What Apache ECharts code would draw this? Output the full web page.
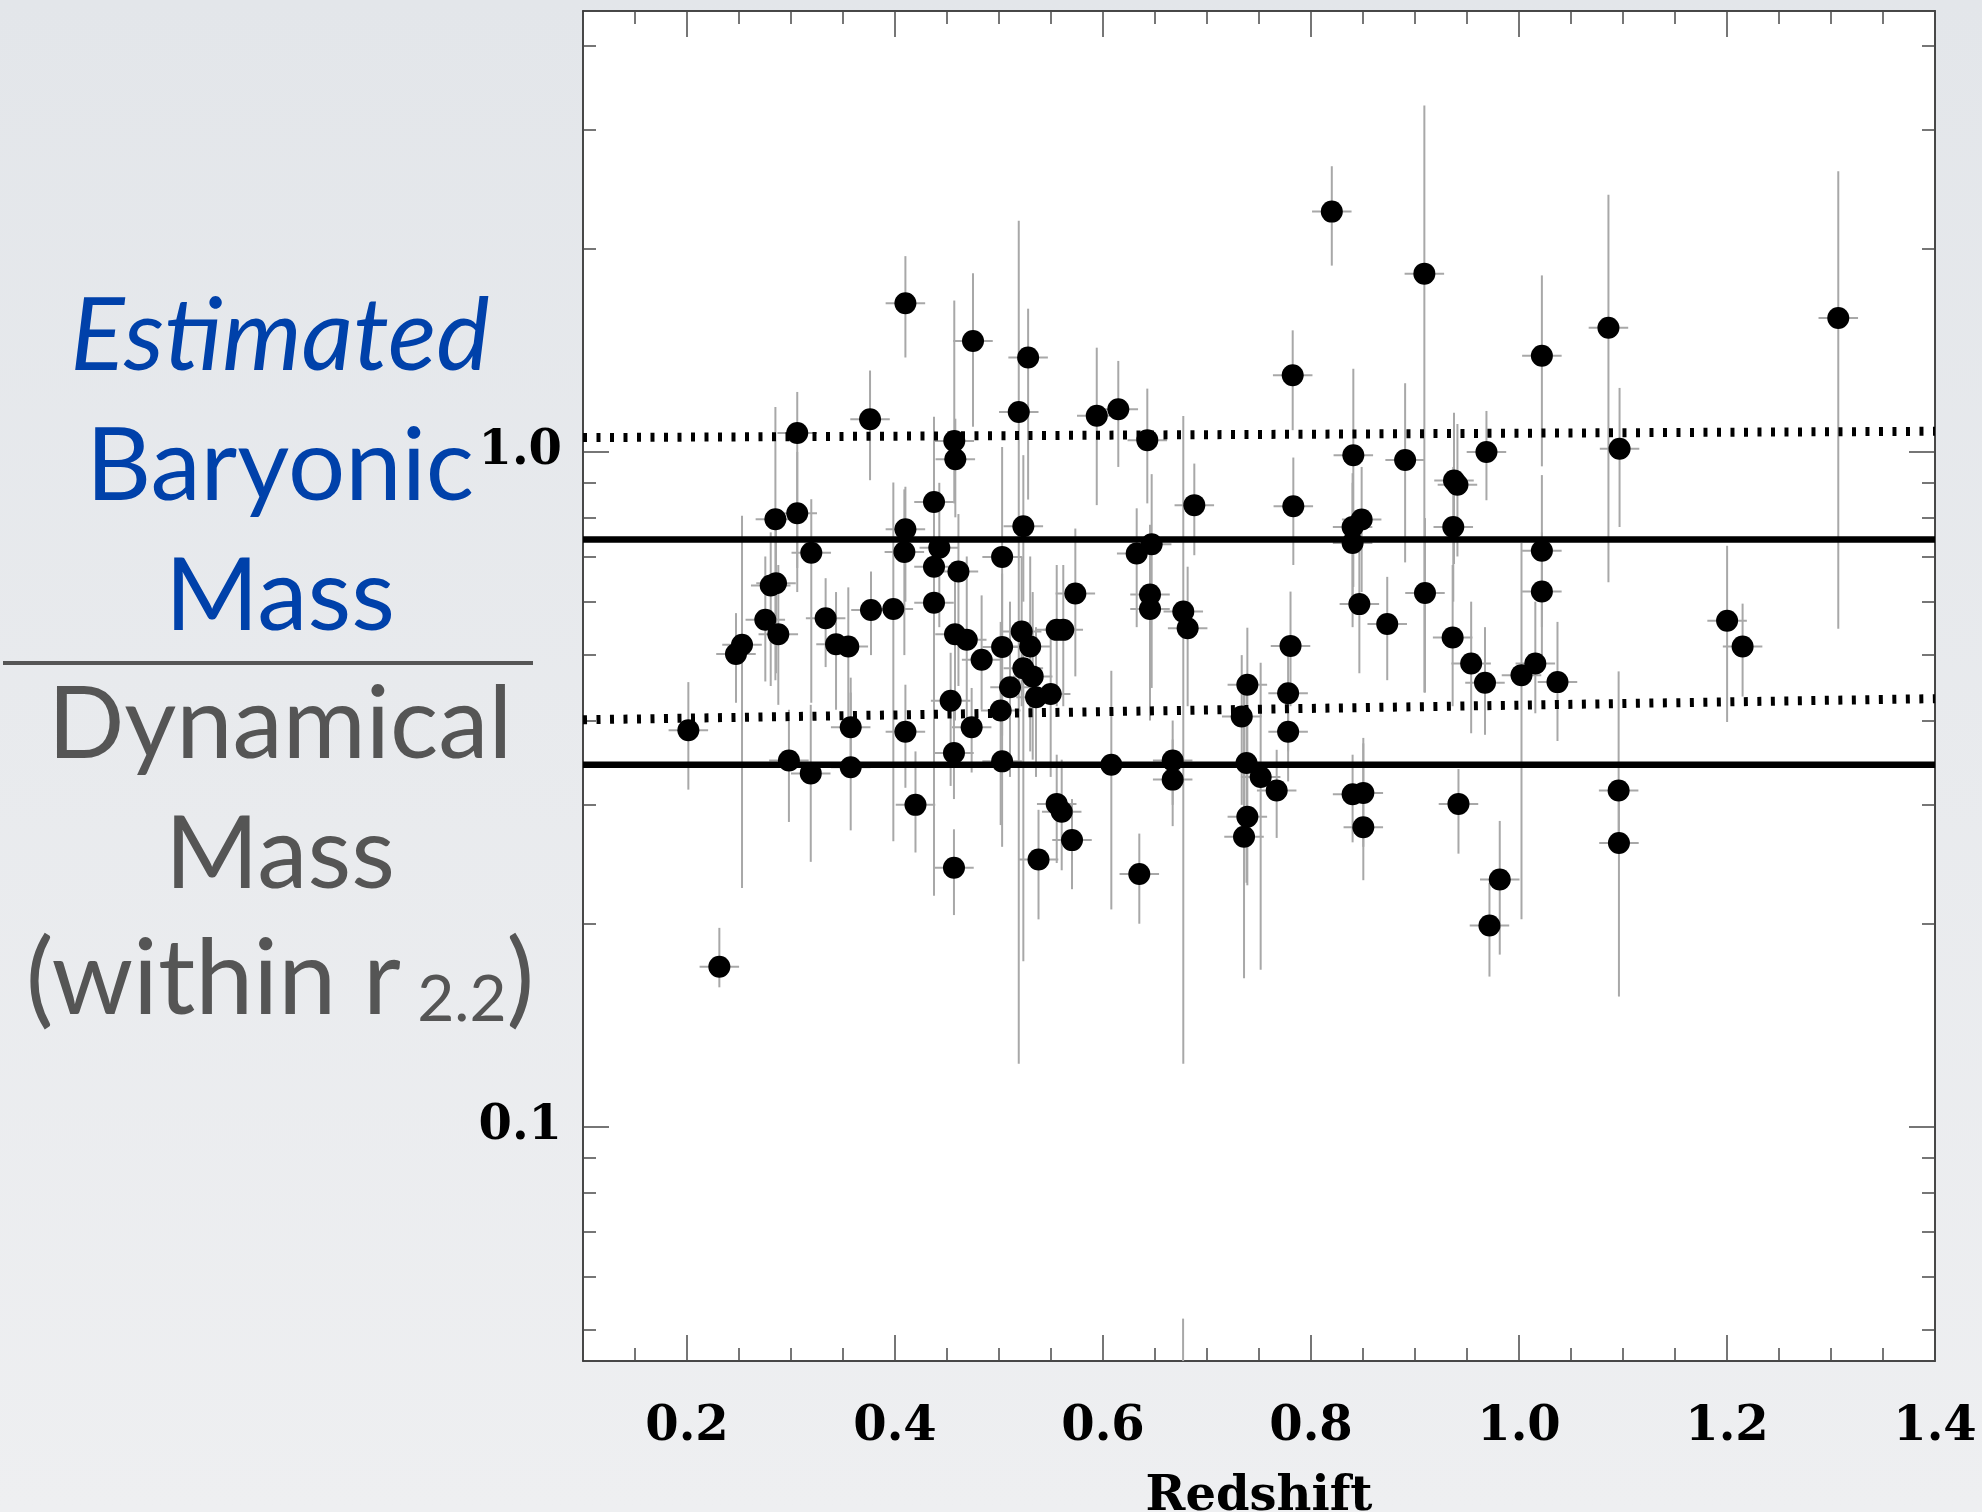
<!DOCTYPE html>
<html>
<head>
<meta charset="utf-8">
<script src="https://cdn.jsdelivr.net/npm/echarts@6/dist/echarts.min.js"></script>
<style>
  html, body { margin: 0; padding: 0; }
  #chart { width: 1982px; height: 1512px; }
</style>
</head>
<body>
<div id="chart"></div>
<script>
// Cluster sample: redshift, baryonic/dynamical mass ratio and its 1-sigma range
const redshift = [
  0.410, 0.475, 0.528, 0.519, 0.376, 0.306, 0.457, 0.458, 0.4375, 0.285,
  0.306, 0.3195, 0.410, 0.409, 0.4426, 0.4375, 0.461, 0.503, 0.5234, 0.2856,
  0.2805, 0.2753, 0.2878, 0.2529, 0.2471, 0.3333, 0.3433, 0.3551, 0.3769, 0.3984,
  0.4375, 0.4577, 0.469, 0.4833, 0.503, 0.5218, 0.530, 0.5234, 0.5106, 0.5324,
  0.4535, 0.5016, 0.2013, 0.3574, 0.410, 0.4737, 0.4567, 0.503, 0.298, 0.319,
  0.3574, 0.4197, 0.4567, 0.2311, 0.538, 0.5356, 0.5497, 0.594, 0.6147, 0.6426,
  0.6878, 0.7824, 0.783, 0.8407, 0.840, 0.8487, 0.840, 0.8465, 0.6324, 0.6468,
  0.5734, 0.6452, 0.6452, 0.6772, 0.6814, 0.5555, 0.5618, 0.7388, 0.7334, 0.7803,
  0.778, 0.778, 0.608, 0.667, 0.667, 0.738, 0.7516, 0.767, 0.7388, 0.7356,
  0.840, 0.8503, 0.8503, 0.5555, 0.5603, 0.5702, 0.6349, 0.909, 1.022, 1.086,
  1.307, 1.0967, 0.8905, 0.9687, 0.9375, 0.9408, 0.9368, 1.022, 1.022, 0.9096,
  0.8733, 0.9362, 0.954, 0.9673, 1.0024, 1.0157, 1.037, 1.2001, 1.215, 0.820,
  0.9418, 0.9815, 0.9716, 1.0958, 1.0961, 0.677
];
const massRatio = [
  1.66, 1.46, 1.38, 1.146, 1.118, 1.067, 1.038, 0.975, 0.843, 0.795,
  0.811, 0.709, 0.768, 0.711, 0.721, 0.676, 0.665, 0.699, 0.776, 0.639,
  0.634, 0.564, 0.537, 0.518, 0.502, 0.567, 0.519, 0.515, 0.583, 0.585,
  0.598, 0.537, 0.527, 0.492, 0.514, 0.542, 0.515, 0.478, 0.448, 0.465,
  0.428, 0.414, 0.387, 0.391, 0.385, 0.391, 0.358, 0.348, 0.349, 0.334,
  0.341, 0.300, 0.242, 0.1727, 0.249, 0.433, 0.438, 1.131, 1.157, 1.041,
  0.834, 1.299, 0.831, 0.989, 0.774, 0.794, 0.733, 0.595, 0.707, 0.730,
  0.617, 0.615, 0.585, 0.580, 0.548, 0.545, 0.545, 0.452, 0.4055, 0.516,
  0.439, 0.385, 0.344, 0.349, 0.327, 0.346, 0.330, 0.315, 0.288, 0.269,
  0.311, 0.3125, 0.278, 0.301, 0.293, 0.266, 0.237, 1.837, 1.388, 1.527,
  1.579, 1.011, 0.973, 1.000, 0.907, 0.894, 0.774, 0.714, 0.621, 0.618,
  0.556, 0.531, 0.486, 0.455, 0.467, 0.486, 0.456, 0.562, 0.515, 2.27,
  0.301, 0.2325, 0.1988, 0.315, 0.2634, 0.035
];
const ratioLow = [
  1.38, 1.09, 0.85, 0.124, 0.908, 0.673, 0.839, 0.80, 0.60, 0.459,
  0.62, 0.425, 0.60, 0.50, 0.55, 0.22, 0.45, 0.45, 0.60, 0.47,
  0.45, 0.457, 0.422, 0.226, 0.425, 0.48, 0.415, 0.40, 0.50, 0.265,
  0.45, 0.40, 0.40, 0.415, 0.38, 0.42, 0.36, 0.176, 0.33, 0.35,
  0.32, 0.28, 0.316, 0.33, 0.318, 0.335, 0.306, 0.26, 0.283, 0.247,
  0.275, 0.255, 0.206, 0.161, 0.203, 0.33, 0.33, 0.834, 0.95, 0.839,
  0.703, 1.077, 0.68, 0.631, 0.60, 0.62, 0.55, 0.47, 0.55, 0.447,
  0.465, 0.45, 0.40, 0.124, 0.42, 0.42, 0.42, 0.35, 0.30, 0.42,
  0.36, 0.325, 0.21, 0.30, 0.279, 0.23, 0.171, 0.268, 0.228, 0.166,
  0.264, 0.26, 0.232, 0.246, 0.24, 0.225, 0.20, 0.44, 0.952, 0.641,
  0.547, 0.774, 0.686, 0.848, 0.682, 0.70, 0.60, 0.55, 0.50, 0.44,
  0.459, 0.42, 0.383, 0.381, 0.203, 0.41, 0.373, 0.398, 0.434, 1.888,
  0.254, 0.180, 0.167, 0.27, 0.156, 0.025
];
const ratioHigh = [
  1.95, 1.84, 1.63, 2.2, 1.32, 1.227, 1.676, 1.12, 1.127, 1.166,
  1.0, 0.851, 0.888, 0.88, 0.90, 0.85, 0.809, 1.017, 0.989, 0.78,
  0.76, 0.70, 0.68, 0.804, 0.577, 0.65, 0.62, 0.63, 0.665, 0.901,
  0.80, 0.68, 0.70, 0.613, 0.66, 0.70, 0.70, 0.56, 0.60, 0.62,
  0.504, 0.56, 0.456, 0.463, 0.452, 0.447, 0.44, 0.45, 0.415, 0.422,
  0.44, 0.36, 0.276, 0.1972, 0.295, 0.55, 0.56, 1.427, 1.364, 1.241,
  0.961, 1.514, 0.981, 1.328, 0.93, 0.95, 0.90, 0.75, 0.825, 0.927,
  0.77, 0.78, 0.75, 1.13, 0.676, 0.68, 0.68, 0.549, 0.50, 0.621,
  0.52, 0.45, 0.474, 0.40, 0.375, 0.45, 0.487, 0.362, 0.36, 0.46,
  0.356, 0.37, 0.377, 0.356, 0.35, 0.306, 0.272, 3.26, 1.826, 2.405,
  2.606, 1.244, 1.264, 1.15, 1.143, 1.10, 0.95, 0.924, 0.76, 0.798,
  0.653, 0.68, 0.60, 0.55, 0.733, 0.60, 0.56, 0.726, 0.596, 2.65,
  0.339, 0.284, 0.230, 0.473, 0.31, 0.052
];
// Half-width of the redshift bars
const redshiftErr = 0.019;

// Reference levels
const levelEnds = [0.1, 1.4];
const solidLevels = [0.742, 0.344];
const dottedUpper = [1.05, 1.073];
const dottedLower = [0.401, 0.431];

// Axis ticks and labels
const xMajor = [0.2, 0.4, 0.6, 0.8, 1.0, 1.2, 1.4];
const xMinor = [0.15, 0.25, 0.3, 0.35, 0.45, 0.5, 0.55, 0.65, 0.7, 0.75,
                0.85, 0.9, 0.95, 1.05, 1.1, 1.15, 1.25, 1.3, 1.35];
const yMajor = [0.1, 1];
const yMinor = [0.05, 0.06, 0.07, 0.08, 0.09, 0.2, 0.3, 0.4, 0.5, 0.6,
                0.7, 0.8, 0.9, 2, 3, 4];

const xTitle = 'Redshift';
const numeratorLines = ['Estimated', 'Baryonic', 'Mass'];
const denominatorLines = ['Dynamical', 'Mass'];
const radiusLine = ['(within r', '2.2', ')'];

const points = redshift.map((z, i) => [z, massRatio[i]]);
const bars = redshift.map((z, i) => [z, massRatio[i], ratioLow[i], ratioHigh[i]]);

const frameLine = { show: true, onZero: false, lineStyle: { color: '#3c3c3c', width: 1.5 } };
const tickStyle = { color: '#4a4a4a', width: 1.5 };
const labelFont = { fontFamily: 'DejaVu Serif', fontSize: 48, fontWeight: 'bold', color: '#000' };
const gridRect = { left: 583, top: 11, width: 1352, height: 1350, outerBoundsMode: 'none', containLabel: false };

function xAxisDef(gridIndex, position, ticks, len, withLabels) {
  const ax = {
    gridIndex, type: 'value', position, min: 0.1, max: 1.4,
    axisLine: frameLine,
    axisTick: { show: true, inside: true, length: len, customValues: ticks, lineStyle: tickStyle },
    axisLabel: { show: false },
    splitLine: { show: false }
  };
  if (withLabels) {
    ax.axisLabel = Object.assign({ show: true, customValues: xMajor, margin: 43,
      formatter: v => v.toFixed(1) }, labelFont);
    ax.name = xTitle;
    ax.nameLocation = 'middle';
    ax.nameGap = 113;
    ax.nameTextStyle = { fontFamily: 'DejaVu Serif', fontSize: 48, fontWeight: 'bold', color: '#000' };
  }
  return ax;
}
function yAxisDef(gridIndex, position, ticks, len, withLabels) {
  const ax = {
    gridIndex, type: 'log', logBase: 10, position, min: 0.045, max: 4.5,
    axisLine: frameLine,
    axisTick: { show: true, inside: true, length: len, customValues: ticks, lineStyle: tickStyle },
    axisLabel: { show: false },
    splitLine: { show: false }
  };
  if (withLabels) {
    ax.axisLabel = Object.assign({ show: true, customValues: yMajor, margin: 21,
      formatter: v => v.toFixed(1) }, labelFont);
  }
  return ax;
}

const blue = '#0041aa';
const grey = '#555555';
const titleFont = 'Lato';
const titleX = 280;
const titleSize = 101;

const chart = echarts.init(document.getElementById('chart'), null, { renderer: 'canvas' });
chart.setOption({
  animation: false,
  backgroundColor: {
    type: 'linear', x: 0, y: 0, x2: 0, y2: 1,
    colorStops: [{ offset: 0, color: '#e3e6ea' }, { offset: 1, color: '#eeeff1' }]
  },
  grid: [
    Object.assign({ show: true, backgroundColor: '#ffffff', borderWidth: 0 }, gridRect),
    Object.assign({ show: false }, gridRect)
  ],
  xAxis: [
    xAxisDef(0, 'bottom', xMajor, 26, true),
    xAxisDef(0, 'top', xMajor, 26, false),
    xAxisDef(1, 'bottom', xMinor, 13, false),
    xAxisDef(1, 'top', xMinor, 13, false)
  ],
  yAxis: [
    yAxisDef(0, 'left', yMajor, 26, true),
    yAxisDef(0, 'right', yMajor, 26, false),
    yAxisDef(1, 'left', yMinor, 13, false),
    yAxisDef(1, 'right', yMinor, 13, false)
  ],
  graphic: [
    { type: 'text', x: titleX, y: 337, z: 10,
      style: { text: numeratorLines[0], align: 'center', verticalAlign: 'middle',
        font: 'italic ' + titleSize + 'px ' + titleFont, fill: blue } },
    { type: 'text', x: titleX, y: 467, z: 10,
      style: { text: numeratorLines[1], align: 'center', verticalAlign: 'middle',
        font: titleSize + 'px ' + titleFont, fill: blue } },
    { type: 'text', x: titleX, y: 597, z: 10,
      style: { text: numeratorLines[2], align: 'center', verticalAlign: 'middle',
        font: titleSize + 'px ' + titleFont, fill: blue } },
    { type: 'line', z: 10, shape: { x1: 3, y1: 663, x2: 533, y2: 663 },
      style: { stroke: grey, lineWidth: 4 } },
    { type: 'text', x: titleX, y: 725, z: 10,
      style: { text: denominatorLines[0], align: 'center', verticalAlign: 'middle',
        font: titleSize + 'px ' + titleFont, fill: grey } },
    { type: 'text', x: titleX, y: 855, z: 10,
      style: { text: denominatorLines[1], align: 'center', verticalAlign: 'middle',
        font: titleSize + 'px ' + titleFont, fill: grey } },
    { type: 'text', x: titleX, y: 980, z: 10,
      style: {
        text: '{m|' + radiusLine[0] + '}{s| ' + radiusLine[1] + '}{m|' + radiusLine[2] + '}',
        align: 'center', verticalAlign: 'middle',
        rich: {
          m: { fontFamily: titleFont, fontSize: 104, fill: grey, color: grey, verticalAlign: 'bottom' },
          s: { fontFamily: titleFont, fontSize: 64, fill: grey, color: grey, verticalAlign: 'bottom' }
        }
      } }
  ],
  series: [
    {
      type: 'custom', xAxisIndex: 0, yAxisIndex: 0, z: 1, silent: true,
      data: bars,
      renderItem(params, api) {
        const z = api.value(0), y = api.value(1);
        const top = api.coord([z, api.value(3)]);
        const bot = api.coord([z, api.value(2)]);
        const l = api.coord([z - redshiftErr, y]);
        const r = api.coord([z + redshiftErr, y]);
        const cs = params.coordSys;
        const clampY = v => Math.max(cs.y, Math.min(cs.y + cs.height, v));
        const style = { stroke: '#a8a8a8', lineWidth: 2 };
        const children = [];
        const y1 = clampY(top[1]), y2 = clampY(bot[1]);
        if (y2 > y1) {
          children.push({ type: 'line', shape: { x1: top[0], y1, x2: bot[0], y2 }, style });
        }
        if (l[1] >= cs.y && l[1] <= cs.y + cs.height) {
          children.push({ type: 'line', shape: { x1: l[0], y1: l[1], x2: r[0], y2: r[1] }, style });
        }
        return { type: 'group', children };
      }
    },
    {
      type: 'line', xAxisIndex: 0, yAxisIndex: 0, z: 2, silent: true, showSymbol: false, symbol: 'none',
      data: [[levelEnds[0], solidLevels[0]], [levelEnds[1], solidLevels[0]]],
      lineStyle: { color: '#000', width: 6.5 }
    },
    {
      type: 'line', xAxisIndex: 0, yAxisIndex: 0, z: 2, silent: true, showSymbol: false, symbol: 'none',
      data: [[levelEnds[0], solidLevels[1]], [levelEnds[1], solidLevels[1]]],
      lineStyle: { color: '#000', width: 6.5 }
    },
    {
      type: 'line', xAxisIndex: 0, yAxisIndex: 0, z: 2, silent: true, showSymbol: false, symbol: 'none',
      data: [[levelEnds[0], dottedUpper[0]], [levelEnds[1], dottedUpper[1]]],
      lineStyle: { color: '#000', width: 9, type: [4, 9.5], cap: 'butt' }
    },
    {
      type: 'line', xAxisIndex: 0, yAxisIndex: 0, z: 2, silent: true, showSymbol: false, symbol: 'none',
      data: [[levelEnds[0], dottedLower[0]], [levelEnds[1], dottedLower[1]]],
      lineStyle: { color: '#000', width: 9, type: [4, 9.5], cap: 'butt' }
    },
    {
      type: 'scatter', xAxisIndex: 0, yAxisIndex: 0, z: 3, silent: true, clip: true,
      data: points, symbol: 'circle', symbolSize: 22,
      itemStyle: { color: '#000', opacity: 1 }
    }
  ]
});
</script>
</body>
</html>
